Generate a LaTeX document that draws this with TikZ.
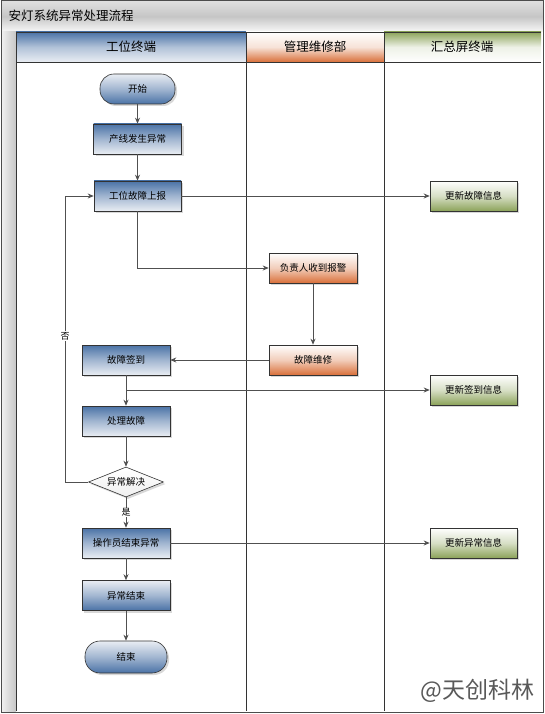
\documentclass[tikz,border=0pt]{standalone}
\usepackage{fontspec}
\setmainfont{Noto Sans CJK SC}
\usetikzlibrary{arrows.meta,shapes.geometric,shadows}
\definecolor{bl}{HTML}{4A72A6}
\definecolor{bll}{HTML}{E9EDF3}
\definecolor{og}{HTML}{D9703A}
\definecolor{gr}{HTML}{8CA35A}
\definecolor{ln}{HTML}{333333}
\definecolor{ar}{HTML}{505050}
\begin{document}
\begin{tikzpicture}[x=1pt,y=-1pt,
  shd/.style={drop shadow={shadow xshift=2pt,shadow yshift=-2pt,opacity=.3}},
  base/.style={draw=ln, line width=0.6pt, rectangle, minimum width=88pt, minimum height=30pt, inner sep=1pt, font=\fontsize{9.5}{11}\selectfont, shd},
  boxb/.style={base, top color=bl, bottom color=bll, middle color=bl!45!bll},
  boxbr/.style={base, top color=bll, bottom color=bl, middle color=bl!45!bll},
  boxo/.style={base, top color=white, bottom color=og, middle color=og!35!white},
  boxg/.style={base, minimum width=87pt, top color=white, bottom color=gr, middle color=gr!35!white},
  term/.style={base, rounded corners=14pt, top color=bll, bottom color=bl, middle color=bl!45!bll},
  dec/.style={draw=ln, line width=0.6pt, diamond, aspect=2.5, minimum width=75pt, minimum height=30pt, inner sep=0pt, top color=white, bottom color=gray!12, font=\fontsize{9.5}{11}\selectfont, shd},
  arr/.style={draw=ar, line width=0.8pt, -{Stealth[length=6pt,width=5pt]}},
  lane/.style={draw=ln, line width=0.7pt},
  hdr/.style={font=\fontsize{12.5}{14}\selectfont},
  lbl/.style={fill=white, inner sep=1pt, font=\fontsize{9}{10}\selectfont}
]
\useasboundingbox (0,0) rectangle (544,714);
% background
\fill[white] (0,0) rectangle (544,714);
% title bar
\shade[top color=gray!25, bottom color=gray!5, middle color=gray!45] (1,1) rectangle (543,32);
\node[anchor=west, font=\fontsize{12.5}{14}\selectfont] (title) at (5,16) {安灯系统异常处理流程};
% left strip
\shade[left color=gray!10, right color=gray!45] (1,32) rectangle (16,711);
% lane headers
\shade[top color=bl, bottom color=bll, middle color=bl!35!bll] (16,32) rectangle (246,62);
\shade[top color=white, bottom color=og, middle color=og!20!white] (246,32) rectangle (384,62);
\shade[top color=gr, bottom color=white, middle color=gr!15!white] (384,32) rectangle (541,62);
\node[hdr] (h1) at (131,47) {工位终端};
\node[hdr] (h2) at (315,47) {管理维修部};
\node[hdr] (h3) at (462,47) {汇总屏终端};
% lane lines
\draw[lane] (16,32) -- (16,711);
\draw[lane] (246,32) -- (246,711);
\draw[lane] (384,32) -- (384,711);
\draw[lane] (16,62) -- (541,62);
\draw[lane] (16,32) -- (541,32);
\draw[draw=gray!60!black, line width=1pt] (1,1) rectangle (543,712);

% nodes
\node[term, minimum width=75pt] (start) at (137.5,89) {开始};
\node[boxb] (s1) at (137.5,139) {产线发生异常};
\node[boxb, minimum width=87pt] (s2) at (137.5,196) {工位故障上报};
\node[boxo] (m1) at (313,268) {负责人收到报警};
\node[boxo] (m2) at (313,360) {故障维修};
\node[boxg] (g1) at (473.5,196) {更新故障信息};
\node[boxb] (s3) at (126,360) {故障签到};
\node[boxg] (g2) at (473.5,390) {更新签到信息};
\node[boxb] (s4) at (126,421) {处理故障};
\node[dec] (d) at (126,482) {异常解决};
\node[boxb] (e1) at (126,543) {操作员结束异常};
\node[boxg] (g3) at (473.5,543) {更新异常信息};
\node[boxbr] (e2) at (126,595.5) {异常结束};
\node[term, minimum width=82pt, minimum height=32pt, rounded corners=15pt] (end) at (126,657) {结束};

% connectors
\draw[arr] (start) -- (s1);
\draw[arr] (s1) -- (s2);
\draw[arr] (s2) -- (g1);
\draw[arr] (s2.south) |- (m1.west);
\draw[arr] (m1) -- (m2);
\draw[arr] (m2) -- (s3);
\draw[arr] (s3) -- (s4);
\draw[arr] (s3.south) |- (g2.west);
\draw[arr] (s4) -- (d);
\coordinate (lp) at (65,482);
\draw[arr] (d.west) -- (lp) |- (s2.west);
\node[lbl] (no) at (65,336) {否};
\draw[arr] (d) -- (e1) node[lbl, midway] (yes) {是};
\draw[arr] (e1) -- (g3);
\draw[arr] (e1) -- (e2);
\draw[arr] (e2) -- (end);

% watermark
\node[anchor=east, text=gray!70!black, font=\fontsize{23}{26}\selectfont] (wm) at (538,691) {@天创科林};
\end{tikzpicture}
\end{document}
